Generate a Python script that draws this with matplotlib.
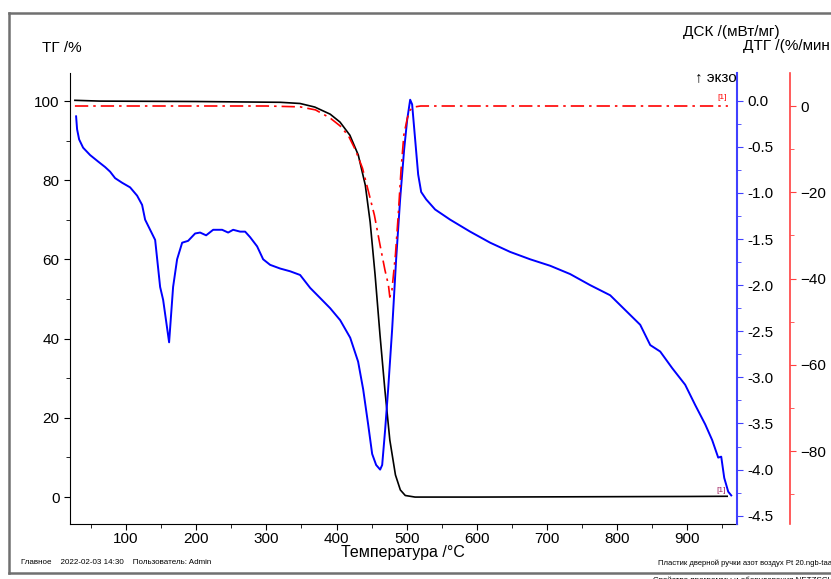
import matplotlib
matplotlib.use("Agg")
import matplotlib.pyplot as plt
from matplotlib.lines import Line2D

plt.rcParams['font.family'] = ['Liberation Sans', 'DejaVu Sans']

# TG curve (black), % vs temperature
tg_temp = [27, 63, 200, 320, 348, 369, 391, 405, 419, 431, 441, 448, 455, 462,
           469, 476, 484, 491, 498, 512, 600, 700, 800, 900, 957]
tg_val = [100.2, 100.0, 99.9, 99.7, 99.4, 98.5, 96.7, 94.7, 91.4, 86.4, 78.8, 69.4,
          56.1, 40.9, 27.0, 14.4, 5.6, 1.8, 0.4, 0.0, 0.0, 0.05, 0.1, 0.15, 0.2]

# DTG curve (red dash-dot), %/min
dtg_temp = [27, 100, 200, 300, 348, 370, 391, 405, 417, 427, 437, 445, 454, 462,
            469, 474, 476, 479, 484, 488, 492, 496, 501, 505, 512, 520, 600, 700,
            800, 900, 958]
dtg_val = [0.0, 0.0, 0.0, 0.0, -0.2, -0.9, -2.8, -4.6, -6.9, -10.2, -14.4, -19.5,
           -25.3, -32.2, -38.0, -41.5, -44.3, -42.7, -34.5, -25.3, -14.8, -6.7,
           -2.8, -0.9, -0.2, 0.0, 0.0, 0.0, 0.0, 0.0, 0.0]

# DSC curve (blue), mW/mg
dsc_temp = [28.7, 30.1, 33.0, 38.7, 48.7, 60.1, 70.1, 77.2, 84.3, 94.3, 105.7,
            115.7, 122.8, 127.1, 141.4, 148.5, 152.8, 161.3, 167.0, 172.7, 179.9,
            188.4, 198.4, 205.5, 214.1, 224.1, 236.9, 245.5, 252.6, 262.6, 269.7,
            276.8, 286.8, 295.4, 305.3, 319.6, 333.9, 348.1, 362.4, 376.7, 390.9,
            405.2, 419.5, 430.8, 438.0, 445.1, 450.8, 456.5, 462.2, 465.1, 469.3,
            473.6, 479.3, 485.0, 490.7, 496.4, 500.7, 505.0, 507.8, 512.1, 516.4,
            520.7, 527.8, 540.6, 562.0, 590.5, 619.1, 647.6, 676.1, 704.6, 733.1,
            761.6, 790.2, 811.6, 833.0, 847.3, 861.5, 878.6, 897.1, 911.4, 925.7,
            935.6, 944.2, 948.5, 952.8, 958.5, 962.8]
dsc_val = [-0.17, -0.31, -0.42, -0.51, -0.59, -0.66, -0.72, -0.77, -0.84, -0.89,
           -0.94, -1.03, -1.13, -1.29, -1.51, -2.02, -2.16, -2.62, -2.02, -1.72,
           -1.54, -1.52, -1.44, -1.43, -1.46, -1.40, -1.40, -1.43, -1.40, -1.42,
           -1.42, -1.48, -1.58, -1.72, -1.78, -1.82, -1.85, -1.89, -2.03, -2.14,
           -2.25, -2.38, -2.57, -2.83, -3.13, -3.51, -3.83, -3.95, -4.00, -3.95,
           -3.57, -3.13, -2.48, -1.72, -1.07, -0.53, -0.21, 0.01, -0.04, -0.42,
           -0.80, -0.99, -1.07, -1.18, -1.29, -1.42, -1.54, -1.64, -1.72, -1.79,
           -1.88, -2.00, -2.11, -2.27, -2.43, -2.65, -2.72, -2.90, -3.08, -3.30,
           -3.51, -3.68, -3.87, -3.86, -4.09, -4.24, -4.28]

x_ticks = [100, 200, 300, 400, 500, 600, 700, 800, 900]
tg_ticks = [0, 20, 40, 60, 80, 100]
dsc_ticks = [0.0, -0.5, -1.0, -1.5, -2.0, -2.5, -3.0, -3.5, -4.0, -4.5]
dtg_ticks = [0, -20, -40, -60, -80]

W, H = 831, 579
fig = plt.figure(figsize=(W / 100, H / 100), dpi=100)
ax = fig.add_axes([70 / W, 1 - 524 / H, 667 / W, 451 / H])

ax.plot(tg_temp, tg_val, color='black', lw=1.2)
ax.set_xlim(20, 971)
ax.set_ylim(-6.8, 107.1)
ax.set_xticks(x_ticks)
ax.set_xticks(range(50, 971, 50), minor=True)
ax.set_yticks(tg_ticks)
ax.set_yticks(range(10, 101, 20), minor=True)
ax.spines['top'].set_visible(False)
ax.spines['right'].set_visible(False)
ax.tick_params(labelsize=11, length=4, direction='out')
ax.tick_params(axis='x', pad=2)
ax.tick_params(which='minor', length=3)

# DSC axis
ax2 = ax.twinx()
ax2.plot(dsc_temp, dsc_val, color='#0000ff', lw=1.4)
ax2.set_ylim(-4.59, 0.30)
ax2.set_yticks(dsc_ticks)
ax2.set_yticklabels([f"{v:.1f}" for v in dsc_ticks])
ax2.set_yticks([-0.25 - 0.5 * i for i in range(9)], minor=True)
for s in ['top', 'left', 'bottom']:
    ax2.spines[s].set_visible(False)
ax2.spines['right'].set_color('#4040ff')
ax2.spines['right'].set_linewidth(1.5)
ax2.tick_params(axis='y', colors='#4040ff', labelcolor='black', labelsize=11, length=4)
ax2.tick_params(axis='y', which='minor', colors='#4040ff', length=3)

# DTG axis
ax3 = ax.twinx()
ax3.plot(dtg_temp, dtg_val, color='red', lw=1.2, ls=(0, (8, 3, 1.5, 3)))
ax3.set_ylim(-96.9, 7.65)
ax3.set_yticks(dtg_ticks)
ax3.set_yticks([-10, -30, -50, -70, -90], minor=True)
for s in ['top', 'left', 'bottom']:
    ax3.spines[s].set_visible(False)
ax3.spines['right'].set_position(('axes', 720 / 667))
ax3.spines['right'].set_color('#ff4040')
ax3.spines['right'].set_linewidth(1.2)
ax3.tick_params(axis='y', colors='#ff4040', labelcolor='black', labelsize=11, length=4)
ax3.tick_params(axis='y', which='minor', colors='#ff4040', length=3)

# curve markers
ax3.text(dtg_temp[-1] - 2, dtg_val[-1] + 1.2, "[1]", color='red', fontsize=6,
         ha='right', va='bottom')
ax.text(tg_temp[-1] - 2, tg_val[-1] + 0.5, "[1]", color='#a02060', fontsize=6,
        ha='right', va='bottom')

# axis titles
fig.text(62 / W, 1 - 48 / H, "ТГ /%", fontsize=11, ha='center', va='center')
fig.text(683 / W, 1 - 32 / H, "ДСК /(мВт/мг)", fontsize=11, ha='left', va='center')
fig.text(743 / W, 1 - 46 / H, "ДТГ /(%/мин", fontsize=11, ha='left', va='center')
fig.text(737 / W, 1 - 77 / H, "↑ экзо", fontsize=11, ha='right', va='center')
fig.text(403 / W, 1 - 552 / H, "Температура /°C", fontsize=11.5, ha='center', va='center')

# footer
fig.text(21 / W, 1 - 563 / H, "Главное    2022-02-03 14:30    Пользователь: Admin",
         fontsize=5.8, ha='left', va='center')
fig.text(658 / W, 1 - 563 / H, "Пластик дверной ручки азот воздух Pt 20.ngb-taa",
         fontsize=5.5, ha='left', va='center')
fig.text(653 / W, 1 - 580 / H, "Свойство программы и оборудования NETZSCH Proteus",
         fontsize=5.8, ha='left', va='center')

# page frame
frame = dict(color='#707070', lw=1.8, transform=fig.transFigure)
fig.add_artist(Line2D([9 / W, 1.0], [1 - 13 / H, 1 - 13 / H], **frame))
fig.add_artist(Line2D([9 / W, 9 / W], [1 - 13 / H, 1 - 573 / H], **frame))
fig.add_artist(Line2D([9 / W, 1.0], [1 - 573 / H, 1 - 573 / H], **frame))

fig.savefig("out.png", dpi=100)
